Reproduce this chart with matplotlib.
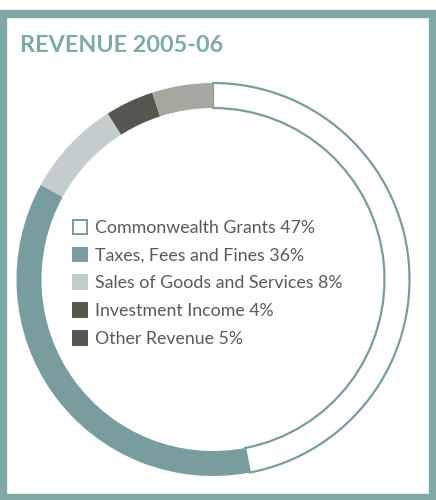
import numpy as np
import matplotlib.pyplot as plt
from matplotlib.patches import Rectangle, Patch

labels = ['Commonwealth Grants', 'Taxes, Fees and Fines', 'Sales of Goods and Services',
          'Investment Income', 'Other Revenue']
shares = [47, 36, 8, 4, 5]
ring_colors = ['white', '#799c9e', '#c3cdce', '#55564d', '#a8a79e']
legend_colors = ['white', '#799c9e', '#c3cdce', '#55564d', '#55564d']

teal = '#7fa9a5'
text_grey = '#5a5a55'

fig = plt.figure(figsize=(4.36, 5.0), dpi=100)

# frame round the whole panel
fig.patches.append(Rectangle((3 / 436, 2.5 / 500), 430 / 436, 1 - 16 / 500,
                             transform=fig.transFigure, fill=False,
                             edgecolor=teal, linewidth=6))

fig.text(20 / 436, 1 - 45 / 500, 'REVENUE 2005-06', fontsize=16.8, fontweight='bold',
         color=teal, family='Lato', va='center', ha='left')

ax = fig.add_axes([0, 0, 1, 1])
ax.set_xlim(0, 436)
ax.set_ylim(0, 500)
ax.set_aspect('equal')
ax.axis('off')

wedges, _ = ax.pie(shares, colors=ring_colors, startangle=90, counterclock=False,
                   center=(213, 500 - 279.5), radius=196.5,
                   wedgeprops=dict(width=25, edgecolor='none', linewidth=0))
wedges[0].set_edgecolor('#799c9e')
wedges[0].set_linewidth(1.6)
ax.set_xlim(0, 436)
ax.set_ylim(0, 500)

handles = []
for lab, pct, c in zip(labels, shares, legend_colors):
    ec = '#799c9e' if c == 'white' else c
    handles.append(Patch(facecolor=c, edgecolor=ec, linewidth=1.4,
                         label=f'{lab} {pct}%'))

leg = ax.legend(handles=handles, loc='upper left',
                bbox_to_anchor=(73 / 436, 1 - 220 / 500), frameon=False,
                prop={'family': 'Lato', 'size': 12.8}, labelcolor=text_grey,
                handlelength=0.8, handleheight=0.8, handletextpad=0.45,
                labelspacing=0.66, borderpad=0, borderaxespad=0)

fig.savefig('out.png', dpi=100)
